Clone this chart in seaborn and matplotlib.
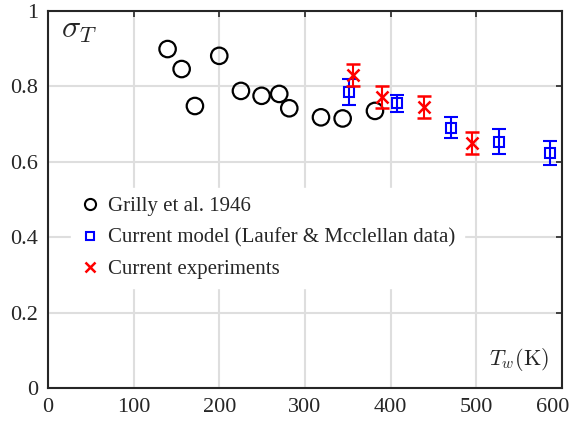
import matplotlib
matplotlib.use("Agg")
import matplotlib.pyplot as plt
import matplotlib.transforms as mtransforms
from matplotlib.lines import Line2D
import seaborn as sns
import pandas as pd

# Grilly et al. 1946
grilly_T = [139.7, 156.1, 171.6, 200.0, 225.3, 249.4, 270.0, 281.7, 318.7, 344.0, 381.7]
grilly_sigma = [0.899, 0.846, 0.748, 0.881, 0.788, 0.775, 0.780, 0.742, 0.718, 0.715, 0.735]

# Current model (Laufer & Mcclellan data)
model_T = [351, 408, 471, 527, 586]
model_sigma = [0.785, 0.755, 0.690, 0.653, 0.623]
model_err = [0.035, 0.022, 0.028, 0.033, 0.032]

# Current experiments
exp_T = [356, 390, 439, 495]
exp_sigma = [0.830, 0.772, 0.745, 0.650]
exp_err = [0.030, 0.028, 0.030, 0.030]

x_ticks = [0, 100, 200, 300, 400, 500, 600]
y_ticks = [0, 0.2, 0.4, 0.6, 0.8, 1.0]
y_ticklabels = ["0", "0.2", "0.4", "0.6", "0.8", "1"]

sns.set_style("white")
plt.rcParams['font.family'] = ['Liberation Serif', 'DejaVu Serif']
plt.rcParams['mathtext.fontset'] = 'cm'

fig, ax = plt.subplots(figsize=(5.7, 4.21), dpi=100)
fig.subplots_adjust(left=0.084, right=0.986, top=0.974, bottom=0.078)

ax.grid(True, color='#dedede', linewidth=1.5)
ax.set_axisbelow(True)

df = pd.DataFrame({"T": grilly_T, "sigma": grilly_sigma})
sns.scatterplot(data=df, x="T", y="sigma", ax=ax, s=140, marker='o',
                facecolors='none', edgecolor='black', linewidth=1.6, zorder=3)

ax.errorbar(model_T, model_sigma, yerr=model_err, fmt='s', color='blue',
            markerfacecolor='none', markersize=7, markeredgewidth=1.5,
            elinewidth=1.5, capsize=5, capthick=1.5, zorder=4)
ax.errorbar(exp_T, exp_sigma, yerr=exp_err, fmt='x', color='red',
            markersize=9, markeredgewidth=1.8,
            elinewidth=1.5, capsize=5, capthick=1.5, zorder=5)

ax.set_xlim(0, 600)
ax.set_ylim(0, 1)
ax.set_xticks(x_ticks)
ax.set_yticks(y_ticks)
ax.set_yticklabels(y_ticklabels)
ax.set_xlabel("")
ax.set_ylabel("")
ax.tick_params(direction='in', length=4, width=1.2, labelsize=16, pad=7,
               top=True, right=True, colors='#262626')
for sp in ax.spines.values():
    sp.set_visible(True)
    sp.set_color('#262626')
    sp.set_linewidth(1.5)

# last x label is nudged left so it stays inside the figure
last = ax.get_xticklabels()[-1]
last.set_transform(last.get_transform() +
                   mtransforms.ScaledTranslation(-9 / 100, 0, fig.dpi_scale_trans))

ax.text(0.025, 0.947, r"$\sigma_T$", transform=ax.transAxes, fontsize=23,
        va='center', ha='left')
ax.text(0.975, 0.077, r"$T_w(\mathrm{K})$", transform=ax.transAxes, fontsize=16,
        va='center', ha='right')

handles = [
    Line2D([], [], linestyle='none', marker='o', markerfacecolor='none',
           markeredgecolor='black', markersize=8, markeredgewidth=1.5),
    Line2D([], [], linestyle='none', marker='s', markerfacecolor='none',
           markeredgecolor='blue', markersize=6, markeredgewidth=1.5),
    Line2D([], [], linestyle='none', marker='x', color='red',
           markersize=7, markeredgewidth=1.8),
]
labels = ["Grilly et al. 1946", "Current model (Laufer & Mcclellan data)",
          "Current experiments"]
leg = ax.legend(handles, labels, loc='center left', bbox_to_anchor=(0.045, 0.398),
                borderaxespad=0, frameon=True, fontsize=15, handlelength=1.0,
                handletextpad=0.38, labelspacing=0.58, borderpad=0.4)
leg.get_frame().set_edgecolor('white')
leg.get_frame().set_facecolor('white')
leg.get_frame().set_alpha(1)

fig.savefig("out.png", dpi=100)
